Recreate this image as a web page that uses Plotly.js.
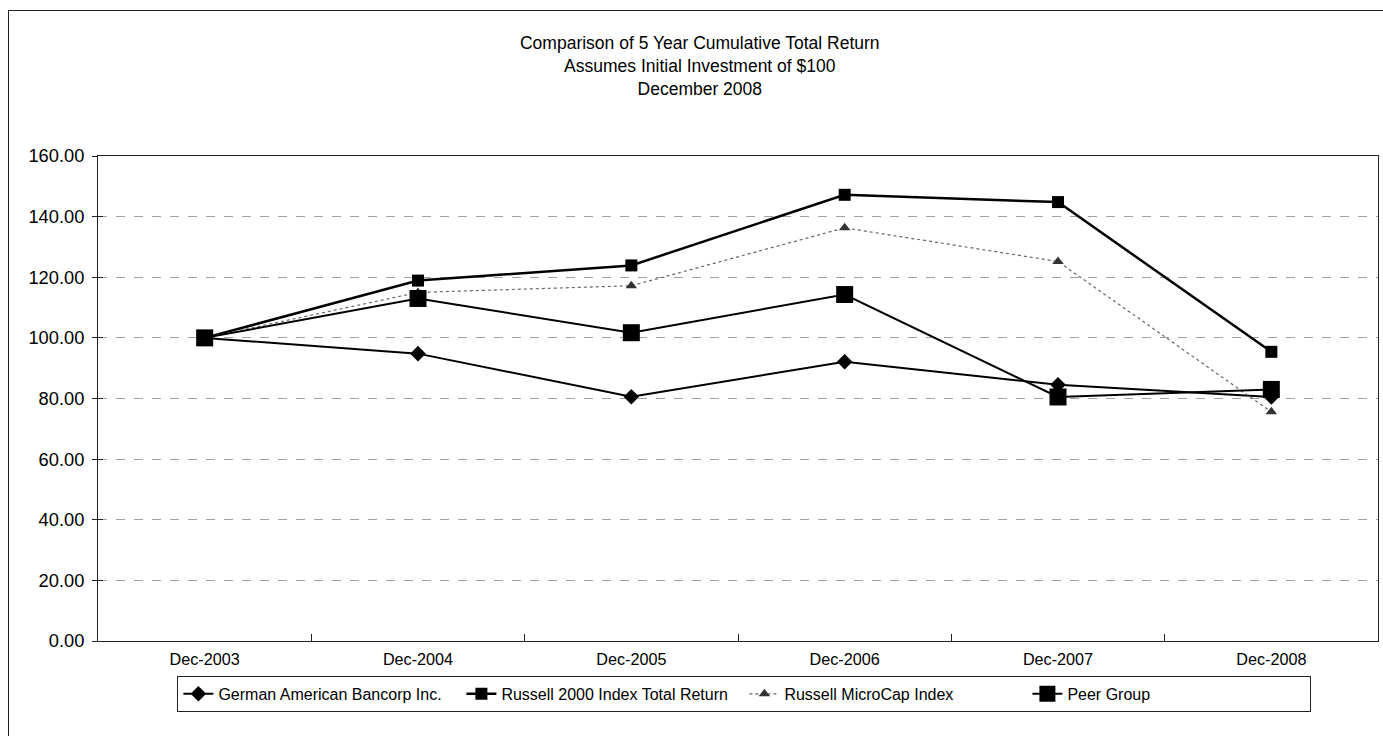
<!DOCTYPE html>
<html>
<head>
<meta charset="utf-8">
<script src="https://cdn.plot.ly/plotly-3.0.1.min.js"></script>
<style>
html,body{margin:0;padding:0;background:#fff;overflow:hidden;}
#chart{position:absolute;left:0;top:0;width:1383px;height:736px;}
#frame{position:absolute;left:8px;top:10px;width:1400px;height:760px;border-left:1px solid #222;border-top:1px solid #222;pointer-events:none;}
</style>
</head>
<body>
<div id="chart"></div>
<div id="frame"></div>
<script>
const categories = ["Dec-2003","Dec-2004","Dec-2005","Dec-2006","Dec-2007","Dec-2008"];
const germanAmerican = [100, 94.8, 80.6, 92.1, 84.5, 80.5];
const russell2000 = [100, 118.9, 123.9, 147.2, 144.8, 95.4];
const russellMicroCap = [100, 115.0, 117.2, 136.3, 125.2, 75.6];
const peerGroup = [100, 113.0, 101.7, 114.3, 80.5, 83.0];
const seriesNames = ["German American Bancorp Inc.","Russell 2000 Index Total Return","Russell MicroCap Index","Peer Group"];
const yTicks = [0,20,40,60,80,100,120,140,160];

const font = 'Arial, "Liberation Sans", sans-serif';

const traces = [
  {x: categories, y: germanAmerican, name: seriesNames[0], type: 'scatter', mode: 'lines+markers',
   line: {color: '#000', width: 2}, marker: {symbol: 'diamond', size: 12, color: '#000'}},
  {x: categories, y: russell2000, name: seriesNames[1], type: 'scatter', mode: 'lines+markers',
   line: {color: '#000', width: 2.5}, marker: {symbol: 'square', size: 12, color: '#000'}},
  {x: categories, y: russellMicroCap, name: seriesNames[2], type: 'scatter', mode: 'lines+markers',
   line: {color: '#666', width: 1.2, dash: 'dot'}, marker: {symbol: 'triangle-up', size: 10, color: '#333'}},
  {x: categories, y: peerGroup, name: seriesNames[3], type: 'scatter', mode: 'lines+markers',
   line: {color: '#000', width: 2}, marker: {symbol: 'square', size: 17, color: '#000'}},
  {x: categories, y: peerGroup, yaxis: 'y2', type: 'scatter', mode: 'none', showlegend: false, hoverinfo: 'skip'}
];

const layout = {
  width: 1383, height: 736,
  paper_bgcolor: '#fff', plot_bgcolor: '#fff',
  margin: {l: 98, r: 5, t: 156, b: 95, autoexpand: false},
  showlegend: true,
  title: {
    text: 'Comparison of 5 Year Cumulative Total Return<br>Assumes Initial Investment of $100<br>December 2008',
    font: {family: font, size: 17.5, color: '#000'},
    x: 0.506, xanchor: 'center', xref: 'container',
    y: 1 - 49/736, yanchor: 'top', yref: 'container'
  },
  xaxis: {
    type: 'category', range: [-0.5, 5.5],
    tickson: 'boundaries', ticks: 'inside', ticklen: 7, tickcolor: '#222',
    showline: true, linecolor: '#222', linewidth: 1, mirror: true,
    showgrid: false, zeroline: false, ticklabelstandoff: 4,
    tickfont: {family: font, size: 16.2, color: '#000'}
  },
  yaxis: {
    range: [0, 160], tickvals: yTicks, tickformat: '.2f',
    ticks: 'outside', ticklen: 5, tickcolor: '#222',
    showline: true, linecolor: '#222', linewidth: 1, mirror: true,
    showgrid: true, gridcolor: '#a0a0a0', gridwidth: 1, griddash: 'dash',
    zeroline: false, ticklabelstandoff: 4,
    tickfont: {family: font, size: 18.3, color: '#000'}
  },
  yaxis2: {
    range: [0, 160], tickvals: yTicks, overlaying: 'y', side: 'left',
    ticks: 'inside', ticklen: 5, tickcolor: '#222', showticklabels: false,
    showgrid: false, zeroline: false, showline: false
  },
  legend: {
    orientation: 'h', x: 0.505, xanchor: 'center', y: -0.072, yanchor: 'top',
    bordercolor: '#222', borderwidth: 1, bgcolor: '#fff',
    font: {family: font, size: 16, color: '#000'},
    traceorder: 'normal', entrywidth: 238, entrywidthmode: 'pixels'
  }
};

Plotly.newPlot('chart', traces, layout, {displayModeBar: false, staticPlot: true});
</script>
</body>
</html>
